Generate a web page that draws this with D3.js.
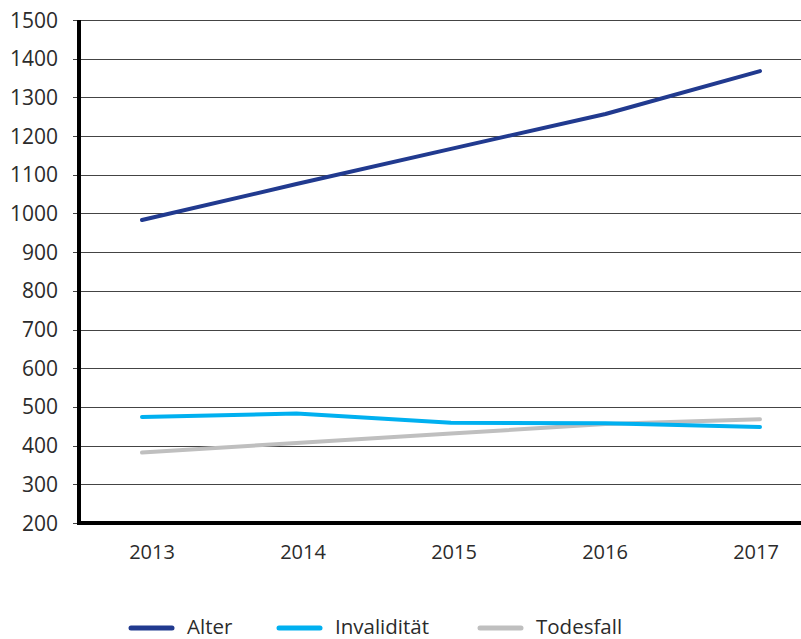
<!DOCTYPE html>
<html>
<head>
<meta charset="utf-8">
<script src="https://cdn.jsdelivr.net/npm/d3@7"></script>
<style>
  body { margin: 0; background: #fff; }
  text { font-family: "Open Sans", "Noto Sans", sans-serif; fill: #2b2b2b; }
</style>
</head>
<body>
<svg id="chart" width="801" height="639"></svg>
<script>
const years = ['2013', '2014', '2015', '2016', '2017'];
const alter = [983, 1076, 1167, 1257, 1368];
const invaliditaet = [474, 483, 459, 458, 448];
const todesfall = [382, 407, 431, 456, 468];
const yTicks = [200, 300, 400, 500, 600, 700, 800, 900, 1000, 1100, 1200, 1300, 1400, 1500];

const series = [
  { name: 'Alter', values: alter, color: '#213a8f' },
  { name: 'Invalidität', values: invaliditaet, color: '#00b0f0' },
  { name: 'Todesfall', values: todesfall, color: '#bfbfbf' }
];

const svg = d3.select('#chart');
const m = { l: 79, r: 801, t: 20, b: 523 };

const x = d3.scalePoint().domain(years).range([142, 760]);
const xLabel = d3.scalePoint().domain(years).range([152, 756]);
const y = d3.scaleLinear().domain([200, 1500]).range([m.b, m.t]);

// gridlines
svg.append('g')
  .selectAll('line')
  .data(yTicks.filter(d => d > 200))
  .join('line')
  .attr('x1', m.l).attr('x2', m.r)
  .attr('y1', d => Math.round(y(d)) + 0.5)
  .attr('y2', d => Math.round(y(d)) + 0.5)
  .attr('stroke', '#444')
  .attr('stroke-width', 1);

// y tick marks + labels
const yAxis = svg.append('g');
yAxis.selectAll('line')
  .data(yTicks)
  .join('line')
  .attr('x1', 73).attr('x2', m.l)
  .attr('y1', d => Math.round(y(d)) + 0.5)
  .attr('y2', d => Math.round(y(d)) + 0.5)
  .attr('stroke', '#444');
yAxis.selectAll('text')
  .data(yTicks)
  .join('text')
  .attr('x', 58)
  .attr('y', d => y(d))
  .attr('dy', '0.36em')
  .attr('text-anchor', 'end')
  .style('font-size', '21px')
  .text(d => d);

// x labels
svg.append('g')
  .selectAll('text')
  .data(years)
  .join('text')
  .attr('x', d => xLabel(d))
  .attr('y', 559)
  .attr('text-anchor', 'middle')
  .style('font-size', '20px')
  .text(d => d);

// axes lines
svg.append('line')
  .attr('x1', m.l).attr('x2', m.l)
  .attr('y1', m.t).attr('y2', m.b + 2)
  .attr('stroke', '#000').attr('stroke-width', 4);
svg.append('line')
  .attr('x1', m.l - 2).attr('x2', m.r)
  .attr('y1', m.b).attr('y2', m.b)
  .attr('stroke', '#000').attr('stroke-width', 4);

// lines
const line = d3.line()
  .x((d, i) => x(years[i]))
  .y(d => y(d));

svg.append('g')
  .selectAll('path')
  .data([series[2], series[1], series[0]])
  .join('path')
  .attr('d', d => line(d.values))
  .attr('fill', 'none')
  .attr('stroke', d => d.color)
  .attr('stroke-width', 4)
  .attr('stroke-linecap', 'round')
  .attr('stroke-linejoin', 'round');

// legend
const legendX = [131, 279, 480];
const legend = svg.append('g')
  .selectAll('g')
  .data(series)
  .join('g')
  .attr('transform', (d, i) => `translate(${legendX[i]},628)`);
legend.append('line')
  .attr('x1', 0).attr('x2', 41)
  .attr('stroke', d => d.color)
  .attr('stroke-width', 5)
  .attr('stroke-linecap', 'round');
legend.append('text')
  .attr('x', 56)
  .attr('y', 6)
  .style('font-size', '20.5px')
  .text(d => d.name);
</script>
</body>
</html>
